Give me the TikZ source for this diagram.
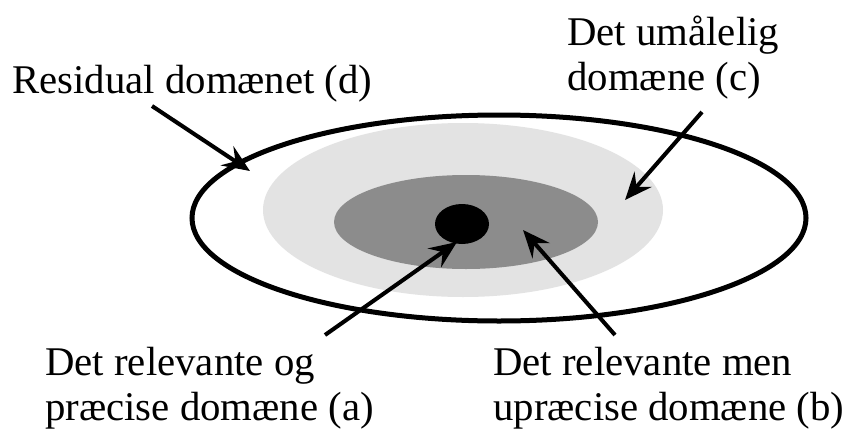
\documentclass[tikz,border=0pt]{standalone}
\usepackage{fontspec}
\setmainfont{Liberation Serif}
\usetikzlibrary{arrows.meta,shapes.geometric}

\begin{document}
\begin{tikzpicture}
[
zone/.style={ellipse,inner sep=0pt,fill=#1},
caption/.style={font=\fontsize{23.2}{25.6}\selectfont,align=left,inner sep=0pt,anchor=base west},
pointer/.style={line width=2.3pt,-{Stealth[length=5.5mm,width=4.6mm,inset=2mm]}},
]
\useasboundingbox (0,0) rectangle (16.92,8.68);

%Place the domains
\node[zone=white,draw,line width=0.1cm,minimum width=12.28cm,minimum height=4.12cm] (d) at (9.98,4.32) {};
\node[zone=black!11,minimum width=8cm,minimum height=3.48cm] (c) at (9.26,4.48) {};
\node[zone=black!45,minimum width=5.28cm,minimum height=1.88cm] (b) at (9.32,4.24) {};
\node[zone=black,minimum width=1.08cm,minimum height=0.8cm] (a) at (9.24,4.2) {};

%Place the captions (base = last line)
\node[caption] (d text) at (0.24,6.82) {Residual domænet (d)};
\node[caption] (c text) at (11.34,6.88) {Det umålelig\\domæne (c)};
\node[caption] (a text) at (0.9,0.28) {Det relevante og\\præcise domæne (a)};
\node[caption] (b text) at (9.86,0.28) {Det relevante men\\upræcise domæne (b)};

%Arrow ends
\coordinate (d tail) at (3.04,6.56);
\coordinate (d tip) at (5.0,5.26);
\coordinate (c tail) at (14.04,6.44);
\coordinate (c tip) at (12.5,4.68);
\coordinate (b tail) at (12.3,1.98);
\coordinate (b tip) at (10.46,4.08);
\coordinate (a tail) at (6.5,1.98);
\coordinate (a tip) at (9.14,3.84);

%Draw the connections
\draw[pointer] (d tail) -- (d tip);
\draw[pointer] (c tail) -- (c tip);
\draw[pointer] (b tail) -- (b tip);
\draw[pointer] (a tail) -- (a tip);
\end{tikzpicture}
\end{document}
